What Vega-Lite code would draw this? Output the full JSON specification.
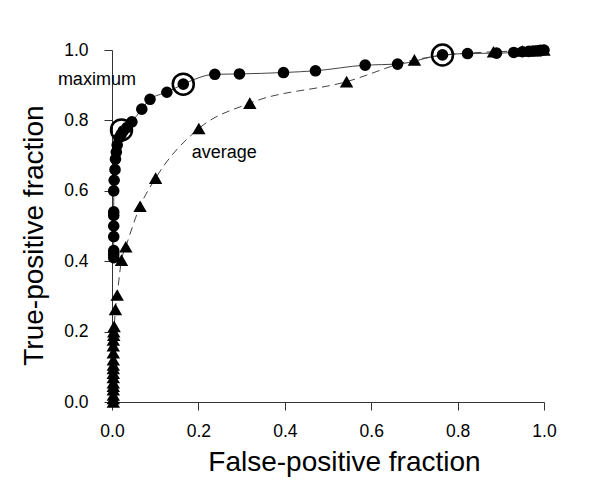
{
  "$schema": "https://vega.github.io/schema/vega-lite/v6.json",
  "autosize": "none",
  "width": 432,
  "height": 352,
  "padding": {"left": 112, "top": 50, "right": 56, "bottom": 87},
  "background": "white",
  "config": {
    "view": {"stroke": null},
    "font": "Liberation Sans",
    "axis": {
      "grid": false,
      "domainColor": "#333333",
      "tickColor": "#333333",
      "tickSize": 8,
      "labelFlush": false,
      "labelFont": "Liberation Sans",
      "labelFontSize": 17.5,
      "labelColor": "#000000",
      "labelPadding": 16,
      "titleFont": "Liberation Sans",
      "titleFontSize": 28,
      "titleFontWeight": "normal",
      "titleColor": "#000000"
    }
  },
  "datasets": {
    "roc": [
      {"series": "maximum", "fpf": 0.004, "tpf": 0.41},
      {"series": "maximum", "fpf": 0.004, "tpf": 0.42},
      {"series": "maximum", "fpf": 0.004, "tpf": 0.43},
      {"series": "maximum", "fpf": 0.004, "tpf": 0.47},
      {"series": "maximum", "fpf": 0.004, "tpf": 0.50},
      {"series": "maximum", "fpf": 0.004, "tpf": 0.53},
      {"series": "maximum", "fpf": 0.004, "tpf": 0.54},
      {"series": "maximum", "fpf": 0.004, "tpf": 0.60},
      {"series": "maximum", "fpf": 0.005, "tpf": 0.63},
      {"series": "maximum", "fpf": 0.007, "tpf": 0.66},
      {"series": "maximum", "fpf": 0.008, "tpf": 0.69},
      {"series": "maximum", "fpf": 0.010, "tpf": 0.71},
      {"series": "maximum", "fpf": 0.012, "tpf": 0.73},
      {"series": "maximum", "fpf": 0.016, "tpf": 0.75},
      {"series": "maximum", "fpf": 0.021, "tpf": 0.76},
      {"series": "maximum", "fpf": 0.026, "tpf": 0.77},
      {"series": "maximum", "fpf": 0.035, "tpf": 0.78},
      {"series": "maximum", "fpf": 0.046, "tpf": 0.796},
      {"series": "maximum", "fpf": 0.069, "tpf": 0.832},
      {"series": "maximum", "fpf": 0.088, "tpf": 0.86},
      {"series": "maximum", "fpf": 0.127, "tpf": 0.88},
      {"series": "maximum", "fpf": 0.165, "tpf": 0.903},
      {"series": "maximum", "fpf": 0.238, "tpf": 0.931},
      {"series": "maximum", "fpf": 0.295, "tpf": 0.932},
      {"series": "maximum", "fpf": 0.397, "tpf": 0.936},
      {"series": "maximum", "fpf": 0.471, "tpf": 0.941},
      {"series": "maximum", "fpf": 0.586, "tpf": 0.957},
      {"series": "maximum", "fpf": 0.661, "tpf": 0.96},
      {"series": "maximum", "fpf": 0.765, "tpf": 0.986},
      {"series": "maximum", "fpf": 0.823, "tpf": 0.99},
      {"series": "maximum", "fpf": 0.89, "tpf": 0.991},
      {"series": "maximum", "fpf": 0.93, "tpf": 0.993},
      {"series": "maximum", "fpf": 0.95, "tpf": 0.995},
      {"series": "maximum", "fpf": 0.965, "tpf": 0.996},
      {"series": "maximum", "fpf": 0.975, "tpf": 0.997},
      {"series": "maximum", "fpf": 0.985, "tpf": 0.998},
      {"series": "maximum", "fpf": 0.992, "tpf": 0.999},
      {"series": "maximum", "fpf": 1.0, "tpf": 1.0},
      {"series": "average", "fpf": 0.003, "tpf": 0.0},
      {"series": "average", "fpf": 0.003, "tpf": 0.01},
      {"series": "average", "fpf": 0.003, "tpf": 0.02},
      {"series": "average", "fpf": 0.003, "tpf": 0.035},
      {"series": "average", "fpf": 0.003, "tpf": 0.045},
      {"series": "average", "fpf": 0.003, "tpf": 0.055},
      {"series": "average", "fpf": 0.003, "tpf": 0.07},
      {"series": "average", "fpf": 0.003, "tpf": 0.082},
      {"series": "average", "fpf": 0.003, "tpf": 0.095},
      {"series": "average", "fpf": 0.003, "tpf": 0.105},
      {"series": "average", "fpf": 0.003, "tpf": 0.12},
      {"series": "average", "fpf": 0.003, "tpf": 0.14},
      {"series": "average", "fpf": 0.003, "tpf": 0.16},
      {"series": "average", "fpf": 0.003, "tpf": 0.176},
      {"series": "average", "fpf": 0.004, "tpf": 0.19},
      {"series": "average", "fpf": 0.004, "tpf": 0.20},
      {"series": "average", "fpf": 0.005, "tpf": 0.215},
      {"series": "average", "fpf": 0.008, "tpf": 0.263},
      {"series": "average", "fpf": 0.012, "tpf": 0.304},
      {"series": "average", "fpf": 0.022, "tpf": 0.403},
      {"series": "average", "fpf": 0.032, "tpf": 0.441},
      {"series": "average", "fpf": 0.065, "tpf": 0.556},
      {"series": "average", "fpf": 0.101, "tpf": 0.636},
      {"series": "average", "fpf": 0.201, "tpf": 0.777},
      {"series": "average", "fpf": 0.319, "tpf": 0.849},
      {"series": "average", "fpf": 0.543, "tpf": 0.91},
      {"series": "average", "fpf": 0.70, "tpf": 0.972},
      {"series": "average", "fpf": 0.883, "tpf": 0.995},
      {"series": "average", "fpf": 0.95, "tpf": 0.997},
      {"series": "average", "fpf": 0.98, "tpf": 0.998},
      {"series": "average", "fpf": 1.0, "tpf": 1.0}
    ],
    "rings": [
      {"fpf": 0.022, "tpf": 0.773},
      {"fpf": 0.165, "tpf": 0.903},
      {"fpf": 0.765, "tpf": 0.986}
    ],
    "labels": [
      {"fpf": -0.035, "tpf": 0.915, "text": "maximum"},
      {"fpf": 0.26, "tpf": 0.707, "text": "average"}
    ]
  },
  "layer": [
    {
      "data": {"name": "roc"},
      "transform": [{"filter": "datum.series === 'average'"}],
      "mark": {"type": "line", "color": "#444444", "strokeWidth": 1, "strokeDash": [8, 5], "interpolate": "monotone"},
      "encoding": {
        "x": {"field": "fpf", "type": "quantitative", "scale": {"domain": [0, 1], "nice": false},
          "axis": {"values": [0, 0.2, 0.4, 0.6, 0.8, 1.0], "format": ".1f", "title": "False-positive fraction", "titleX": 232, "titleY": 68, "titleBaseline": "alphabetic", "labelPadding": 12}},
        "y": {"field": "tpf", "type": "quantitative", "scale": {"domain": [0, 1], "nice": false},
          "axis": {"values": [0, 0.2, 0.4, 0.6, 0.8, 1.0], "format": ".1f", "title": "True-positive fraction", "titleX": -64, "titleY": 185, "titleBaseline": "bottom"}},
        "order": {"field": "tpf", "type": "quantitative"}
      }
    },
    {
      "data": {"name": "roc"},
      "transform": [{"filter": "datum.series === 'maximum'"}],
      "mark": {"type": "line", "color": "#444444", "strokeWidth": 1, "interpolate": "monotone"},
      "encoding": {
        "x": {"field": "fpf", "type": "quantitative"},
        "y": {"field": "tpf", "type": "quantitative"},
        "order": {"field": "tpf", "type": "quantitative"}
      }
    },
    {
      "data": {"name": "roc"},
      "transform": [{"filter": "datum.series === 'average'"}],
      "mark": {"type": "point", "shape": "triangle-up", "filled": true, "color": "#000000", "opacity": 1, "size": 180},
      "encoding": {
        "x": {"field": "fpf", "type": "quantitative"},
        "y": {"field": "tpf", "type": "quantitative"}
      }
    },
    {
      "data": {"name": "roc"},
      "transform": [{"filter": "datum.series === 'maximum'"}],
      "mark": {"type": "point", "shape": "circle", "filled": true, "color": "#000000", "opacity": 1, "size": 135},
      "encoding": {
        "x": {"field": "fpf", "type": "quantitative"},
        "y": {"field": "tpf", "type": "quantitative"}
      }
    },
    {
      "data": {"name": "rings"},
      "mark": {"type": "point", "shape": "circle", "filled": false, "stroke": "#000000", "strokeWidth": 2.5, "opacity": 1, "size": 440},
      "encoding": {
        "x": {"field": "fpf", "type": "quantitative"},
        "y": {"field": "tpf", "type": "quantitative"}
      }
    },
    {
      "data": {"name": "labels"},
      "mark": {"type": "text", "font": "Liberation Sans", "fontSize": 18, "color": "#000000", "align": "center", "baseline": "middle"},
      "encoding": {
        "x": {"field": "fpf", "type": "quantitative"},
        "y": {"field": "tpf", "type": "quantitative"},
        "text": {"field": "text"}
      }
    }
  ]
}
